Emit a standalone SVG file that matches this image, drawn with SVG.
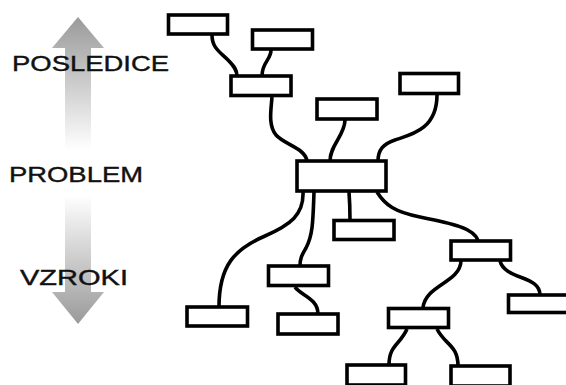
<svg xmlns="http://www.w3.org/2000/svg" width="566" height="385" viewBox="0 0 566 385">
  <defs>
    <linearGradient id="gradUp" x1="0" y1="17" x2="0" y2="150" gradientUnits="userSpaceOnUse">
      <stop offset="0" stop-color="#9a9a9a"/>
      <stop offset="0.35" stop-color="#bdbdbd"/>
      <stop offset="1" stop-color="#ffffff"/>
    </linearGradient>
    <linearGradient id="gradDown" x1="0" y1="195" x2="0" y2="324" gradientUnits="userSpaceOnUse">
      <stop offset="0" stop-color="#ffffff"/>
      <stop offset="0.65" stop-color="#bdbdbd"/>
      <stop offset="1" stop-color="#9a9a9a"/>
    </linearGradient>
    <style>
      .label { font-family: "Liberation Sans", Arial, sans-serif; font-size: 22px; fill: #111111; stroke: #111111; stroke-width: 0.4; }
      .box { fill: #ffffff; stroke: #000000; stroke-width: 3.6; }
      .link { fill: none; stroke: #000000; stroke-width: 3.6; stroke-linecap: butt; }
    </style>
  </defs>

  <rect x="0" y="0" width="566" height="385" fill="#ffffff"/>

  <!-- direction arrows -->
  <g id="arrow-up">
    <path d="M78,17 L104,48 L91,48 L91,150 L65,150 L65,48 L52,48 Z" fill="url(#gradUp)"/>
  </g>
  <g id="arrow-down">
    <path d="M65,195 L91,195 L91,292 L104,292 L78,324 L52,292 L65,292 Z" fill="url(#gradDown)"/>
  </g>

  <!-- labels -->
  <g id="label-posledice"><text class="label" x="12" y="71" textLength="157" lengthAdjust="spacingAndGlyphs">POSLEDICE</text></g>
  <g id="label-problem"><text class="label" x="9" y="182" textLength="134" lengthAdjust="spacingAndGlyphs">PROBLEM</text></g>
  <g id="label-vzroki"><text class="label" x="20" y="284.5" textLength="108" lengthAdjust="spacingAndGlyphs">VZROKI</text></g>

  <!-- connectors -->
  <g id="connectors">
    <path class="link" d="M212,35 C212,48 220,52 228,60 C234,66 237,70 237,76"/>
    <path class="link" d="M271,50 C271,60 262,62 262,76"/>
    <path class="link" d="M272,97 C271,110 268,125 276,135 C285,145 305,148 307,161"/>
    <path class="link" d="M345,120 C345,135 330,145 330,161"/>
    <path class="link" d="M437,95 C437,130 410,135 395,140 C383,144 378,150 378,161"/>
    <path class="link" d="M303,192 C304,215 290,225 265,236 C235,249 219,265 219,307"/>
    <path class="link" d="M314,192 C313,220 313,235 306,248 C302,255 300,258 300,266"/>
    <path class="link" d="M349,192 C350,205 350,210 350,220"/>
    <path class="link" d="M377,192 C385,205 395,212 420,217 C450,223 475,228 478,241"/>
    <path class="link" d="M295,287 C300,295 318,298 318,314"/>
    <path class="link" d="M461,261 C460,283 425,285 423,308"/>
    <path class="link" d="M500,261 C505,280 540,275 540,295"/>
    <path class="link" d="M407,329 C400,345 389,345 389,365"/>
    <path class="link" d="M437,329 C445,345 458,345 458,366"/>
  </g>

  <!-- nodes -->
  <g id="node-a"><rect class="box" x="168.5" y="15" width="59" height="19"/></g>
  <g id="node-b"><rect class="box" x="252.5" y="30" width="60" height="19"/></g>
  <g id="node-c"><rect class="box" x="231" y="76" width="60" height="19.5"/></g>
  <g id="node-d"><rect class="box" x="317" y="99" width="60" height="20"/></g>
  <g id="node-e"><rect class="box" x="400" y="73.5" width="58.5" height="20"/></g>
  <g id="node-problem"><rect class="box" x="297" y="161" width="89" height="30"/></g>
  <g id="node-f"><rect class="box" x="334" y="220.5" width="60" height="19"/></g>
  <g id="node-g"><rect class="box" x="451" y="241" width="59.5" height="19"/></g>
  <g id="node-h"><rect class="box" x="268.5" y="266" width="60" height="19.5"/></g>
  <g id="node-i"><rect class="box" x="187" y="307" width="60.5" height="19"/></g>
  <g id="node-j"><rect class="box" x="278" y="314" width="60" height="20"/></g>
  <g id="node-k"><rect class="box" x="388.5" y="308.5" width="60" height="19"/></g>
  <g id="node-l"><rect class="box" x="508.5" y="295" width="62" height="17.5"/></g>
  <g id="node-m"><rect class="box" x="347" y="365" width="58.5" height="20"/></g>
  <g id="node-n"><rect class="box" x="451" y="366" width="59" height="20"/></g>
</svg>
